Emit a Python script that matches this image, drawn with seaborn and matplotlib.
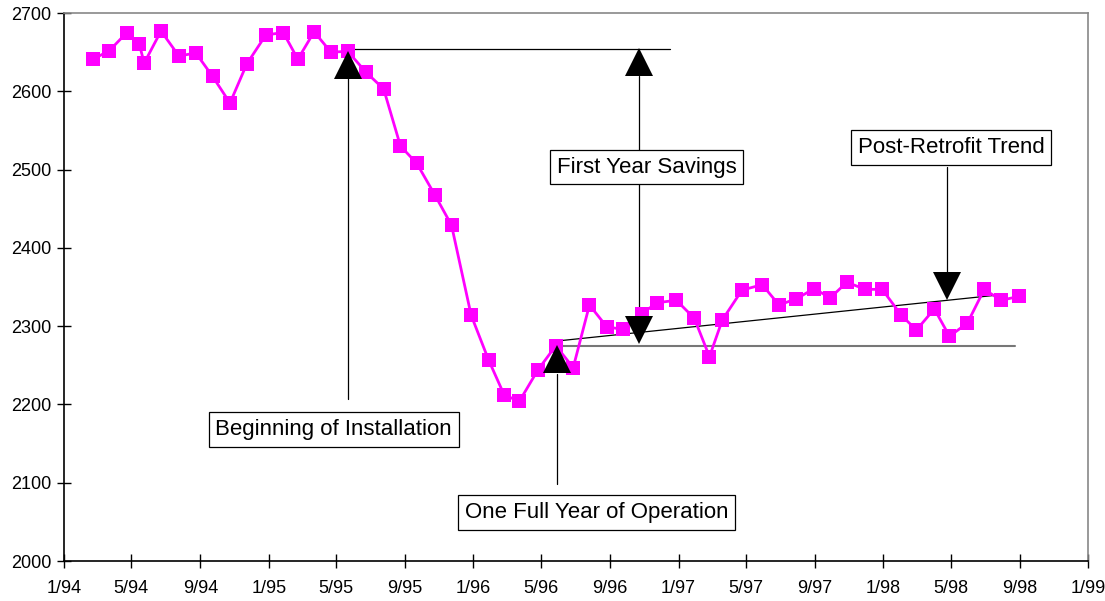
import matplotlib
matplotlib.use("Agg")
import matplotlib.pyplot as plt
import pandas as pd
import seaborn as sns

# ---- data (monthly billing readings) ----
bill_dates = [
    "1994-02-22", "1994-03-23", "1994-04-23", "1994-05-15", "1994-05-24", "1994-06-23",
    "1994-07-25", "1994-08-24", "1994-09-23", "1994-10-24", "1994-11-23", "1994-12-27",
    "1995-01-27", "1995-02-22", "1995-03-23", "1995-04-22", "1995-05-22", "1995-06-24",
    "1995-07-25", "1995-08-24", "1995-09-22", "1995-10-24", "1995-11-23", "1995-12-28",
    "1996-01-28", "1996-02-25", "1996-03-23", "1996-04-25", "1996-05-27", "1996-06-27",
    "1996-07-26", "1996-08-26", "1996-09-23", "1996-10-27", "1996-11-24", "1996-12-28",
    "1997-01-29", "1997-02-25", "1997-03-20", "1997-04-24", "1997-05-30", "1997-06-29",
    "1997-07-30", "1997-08-31", "1997-09-28", "1997-10-28", "1997-11-30", "1997-12-30",
    "1998-02-02", "1998-03-01", "1998-04-02", "1998-04-29", "1998-05-31", "1998-06-30",
    "1998-07-30", "1998-08-31",
]
usage = [
    2641, 2652, 2675, 2661, 2636, 2677,
    2645, 2649, 2619, 2585, 2635, 2672,
    2675, 2641, 2676, 2650, 2651, 2624,
    2603, 2530, 2508, 2468, 2429, 2314,
    2257, 2212, 2204, 2244, 2275, 2247,
    2327, 2299, 2296, 2316, 2330, 2333,
    2310, 2261, 2308, 2346, 2353, 2327,
    2335, 2348, 2336, 2356, 2347, 2347,
    2314, 2295, 2322, 2287, 2304, 2347,
    2333, 2338,
]
y_ticks = [2000, 2100, 2200, 2300, 2400, 2500, 2600, 2700]
x_start, x_end = "1994-01-01", "1999-01-01"

# annotation texts and anchors
install_label = "Beginning of Installation"
year_label = "One Full Year of Operation"
savings_label = "First Year Savings"
trend_label = "Post-Retrofit Trend"
pre_level = 2654
post_level = 2275
trend_start = ("1996-05-29", 2281)
trend_end = ("1998-08-10", 2341)

sns.set_theme(style="white")
plt.rcParams["font.family"] = ["Liberation Sans", "DejaVu Sans"]

W, H = 1105, 601
fig = plt.figure(figsize=(W / 100, H / 100), dpi=100)
ax = fig.add_axes([64 / W, 1 - 561 / H, (1088 - 64) / W, (561 - 13) / H])

df = pd.DataFrame({"date": pd.to_datetime(bill_dates), "kwh": usage})
sns.lineplot(data=df, x="date", y="kwh", ax=ax, color="#FF00FF", lw=2,
             marker="s", markersize=9.6, markeredgewidth=0, zorder=3)

T = pd.Timestamp
ax.set_xlim(T(x_start), T(x_end))
ax.set_ylim(y_ticks[0], y_ticks[-1])
ax.set_yticks(y_ticks)
xt = pd.date_range(x_start, x_end, freq="4MS")
ax.set_xticks(xt)
ax.set_xticklabels([f"{d.month}/{d.year % 100:02d}" for d in xt])
ax.set_xlabel("")
ax.set_ylabel("")
ax.tick_params(axis="both", which="major", bottom=True, left=True, direction="inout",
               length=10, width=1, colors="black", labelsize=13)
ax.tick_params(axis="x", pad=9)
ax.tick_params(axis="y", pad=4)
for side in ["left", "bottom"]:
    ax.spines[side].set_color("black")
    ax.spines[side].set_linewidth(1.2)
for side in ["top", "right"]:
    ax.spines[side].set_color("#888888")
    ax.spines[side].set_linewidth(1.2)

TRI = 19.5  # triangle marker size (pt)


def tri(x, tip, base, up=True):
    ax.plot([T(x)], [(tip + base) / 2], marker="^" if up else "v", ms=TRI,
            color="black", mec="black", mew=0, zorder=4, ls="none")


def vline(x, y0, y1):
    ax.plot([T(x), T(x)], [y0, y1], color="black", lw=0.9, zorder=2)


def box(x, y, s):
    ax.text(T(x), y, s, ha="center", va="center", fontsize=16, color="black", zorder=6,
            bbox=dict(boxstyle="square,pad=0.3", fc="white", ec="black", lw=0.9))


# reference lines
ax.plot([T(bill_dates[16]), T("1996-12-16")], [pre_level, pre_level], color="black", lw=0.9, zorder=2)
ax.plot([T(trend_start[0]), T("1998-08-24")], [post_level, post_level], color="#777777", lw=1.5, zorder=2)
ax.plot([T(trend_start[0]), T(trend_end[0])], [trend_start[1], trend_end[1]], color="black", lw=0.9, zorder=2)

# Beginning of installation
vline(bill_dates[16], 2617, 2207)
tri(bill_dates[16], 2651, 2617, up=True)
box("1995-04-27", 2168, install_label)

# One full year of operation
vline("1996-05-29", 2239, 2098)
tri("1996-05-29", 2276, 2239, up=True)
box("1996-08-08", 2062, year_label)

# First year savings
vline("1996-10-23", 2620, 2312)
tri("1996-10-23", pre_level, 2620, up=True)
tri("1996-10-23", 2278, 2312, up=False)
box("1996-11-05", 2503, savings_label)

# Post-retrofit trend
vline("1998-04-24", 2503, 2368)
tri("1998-04-24", 2334, 2368, up=False)
box("1998-05-02", 2528, trend_label)

fig.savefig("out.png", dpi=100, facecolor="white")
